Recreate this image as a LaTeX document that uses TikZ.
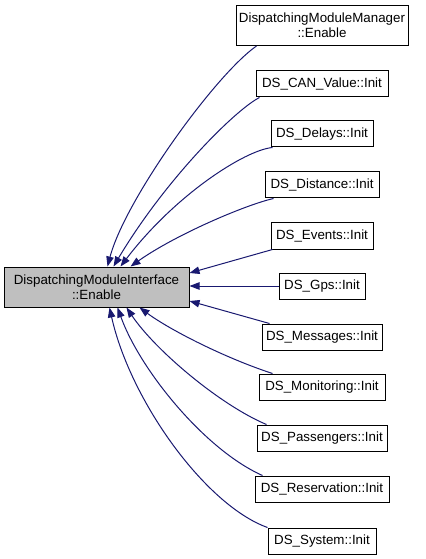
\documentclass[tikz,border=0pt]{standalone}
\usepackage{fontspec}
\setmainfont{Liberation Sans}
\usetikzlibrary{arrows.meta,calc}
\definecolor{edgeblue}{RGB}{25,25,112}
\definecolor{nodegray}{RGB}{191,191,191}
\tikzset{
  box/.style={draw=black, line width=0.75pt, inner sep=0pt, font=\fontsize{10pt}{11.5pt}\selectfont, align=center, minimum height=19.5pt, fill=white},
  twoline/.style={minimum height=30pt},
  edge/.style={draw=edgeblue, line width=0.75pt, -{Triangle[length=7.5pt,width=5.6pt]}},
}
\begin{document}
\begin{tikzpicture}[x=0.75pt,y=-0.75pt]
\useasboundingbox (0,0) rectangle (425,559);
\node[box,twoline,fill=nodegray,minimum width=138.75pt] (L) at (96.5,287) {DispatchingModuleInterface\\::Enable};
\node[box,twoline,minimum width=129pt] (M) at (322,25.5) {DispatchingModuleManager\\::Enable};
\node[box,minimum width=99pt] (CAN) at (322,84) {DS\_CAN\_Value::Init};
\node[box,minimum width=76.5pt] (DEL) at (322,134) {DS\_Delays::Init};
\node[box,minimum width=85.5pt] (DIS) at (322,185) {DS\_Distance::Init};
\node[box,minimum width=76.5pt] (EVT) at (322,236) {DS\_Events::Init};
\node[box,minimum width=64.5pt] (GPS) at (322,286) {DS\_Gps::Init};
\node[box,minimum width=90pt] (MSG) at (322,337) {DS\_Messages::Init};
\node[box,minimum width=94.5pt] (MON) at (322,387) {DS\_Monitoring::Init};
\node[box,minimum width=97.5pt] (PAS) at (322,438) {DS\_Passengers::Init};
\node[box,minimum width=100.5pt] (RES) at (322,489) {DS\_Reservation::Init};
\node[box,minimum width=81pt] (SYS) at (322,541) {DS\_System::Init};

\draw[edge] ($(M.south west)+(21,0)$) .. controls (215,75) and (125,200) .. ($(L.north west)+(104,0)$);
\draw[edge] ($(CAN.south west)+(4,0)$) .. controls (235,110) and (165,180) .. ($(L.north west)+(110,0)$);
\draw[edge] ($(DEL.south west)+(2,0)$) .. controls (245,150) and (175,195) .. ($(L.north west)+(117,0)$);
\draw[edge] ($(DIS.south west)+(9,0)$) .. controls (245,205) and (175,235) .. ($(L.north west)+(127,0)$);
\draw[edge] ($(EVT.south west)+(2,0)$) -- ($(L.east)+(0,-14)$);
\draw[edge] (GPS.west) -- (GPS.west -| L.east);
\draw[edge] ($(MSG.north west)+(8,0)$) -- ($(L.east)+(0,14)$);
\draw[edge] ($(MON.north west)+(14,0)$) .. controls (225,358) and (170,330) .. ($(L.south west)+(136,0)$);
\draw[edge] ($(PAS.north west)+(10,0)$) .. controls (220,405) and (155,350) .. ($(L.south west)+(123,0)$);
\draw[edge] ($(RES.north west)+(8,0)$) .. controls (205,450) and (140,370) .. ($(L.south west)+(114,0)$);
\draw[edge] ($(SYS.north west)+(0,0)$) .. controls (205,505) and (130,400) .. ($(L.south west)+(106,0)$);
\end{tikzpicture}
\end{document}
